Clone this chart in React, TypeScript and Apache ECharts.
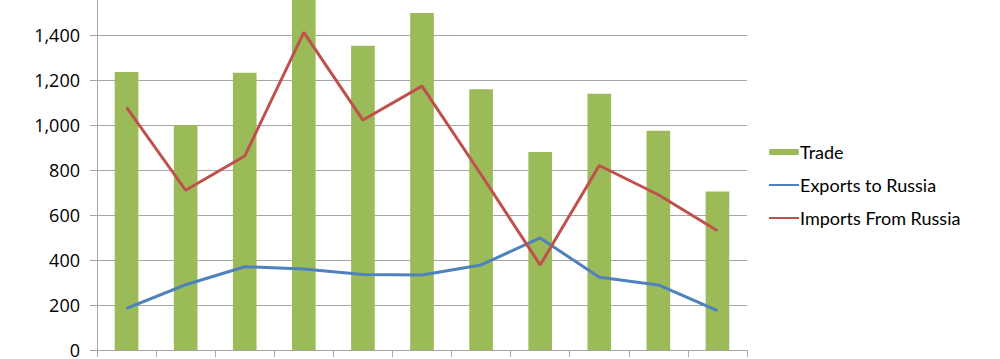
import React, { useEffect, useRef } from "react";
import * as echarts from "echarts";

const categories = ["1", "2", "3", "4", "5", "6", "7", "8", "9", "10", "11"];
const trade = [1236, 1000, 1232, 1580, 1352, 1498, 1159, 880, 1139, 975, 705];
const exportsToRussia = [185, 290, 370, 360, 336, 333, 378, 498, 323, 289, 175];
const importsFromRussia = [1078, 710, 862, 1412, 1022, 1173, 780, 378, 820, 690, 530];
const yTicks = { min: 0, max: 1600, interval: 200 };

export default function App() {
  const ref = useRef<HTMLDivElement>(null);
  useEffect(() => {
    if (!ref.current) return;
    const chart = echarts.init(ref.current, undefined, { renderer: "svg" });
    chart.setOption({
      animation: false,
      backgroundColor: "#ffffff",
      grid: { left: 97, right: 253, top: -10, bottom: 9, containLabel: false, outerBoundsMode: "none" },
      legend: {
        orient: "vertical",
        left: 768,
        top: 143,
        padding: 0,
        itemWidth: 30,
        itemHeight: 6,
        itemGap: 15,
        textStyle: { fontFamily: "Lato", fontSize: 18, color: "#000", padding: [0, 0, 0, -4] },
        data: [
          { name: "Trade" },
          { name: "Exports to Russia", itemStyle: { opacity: 0 } },
          { name: "Imports From Russia", itemStyle: { opacity: 0 } },
        ],
      },
      xAxis: {
        type: "category",
        data: categories,
        boundaryGap: true,
        axisLine: { show: true, lineStyle: { color: "#a6a6a6", width: 1 } },
        axisTick: { show: true, length: 7, lineStyle: { color: "#a6a6a6" } },
        axisLabel: { show: false },
        splitLine: { show: false },
      },
      yAxis: {
        type: "value",
        min: yTicks.min,
        max: yTicks.max,
        interval: yTicks.interval,
        axisLine: { show: true, lineStyle: { color: "#a6a6a6", width: 1 } },
        axisTick: { show: true, length: 7, lineStyle: { color: "#a6a6a6" } },
        axisLabel: {
          fontFamily: "Open Sans",
          fontSize: 18,
          color: "#000",
          margin: 17,
          formatter: (v: number) => v.toLocaleString("en-US"),
        },
        splitLine: { show: true, lineStyle: { color: "#a6a6a6", width: 1 } },
      },
      series: [
        {
          name: "Trade",
          type: "bar",
          data: trade,
          barWidth: "40%",
          itemStyle: { color: "#9bbb59" },
        },
        {
          name: "Exports to Russia",
          type: "line",
          data: exportsToRussia,
          symbol: "none",
          lineStyle: { color: "#4f81bd", width: 3 },
          itemStyle: { color: "#4f81bd" },
        },
        {
          name: "Imports From Russia",
          type: "line",
          data: importsFromRussia,
          symbol: "none",
          lineStyle: { color: "#c0504d", width: 3 },
          itemStyle: { color: "#c0504d" },
        },
      ],
    });
    return () => chart.dispose();
  }, []);
  return (
    <div
      ref={ref}
      style={{ position: "fixed", left: 0, top: 0, width: 1000, height: 359 }}
    />
  );
}
